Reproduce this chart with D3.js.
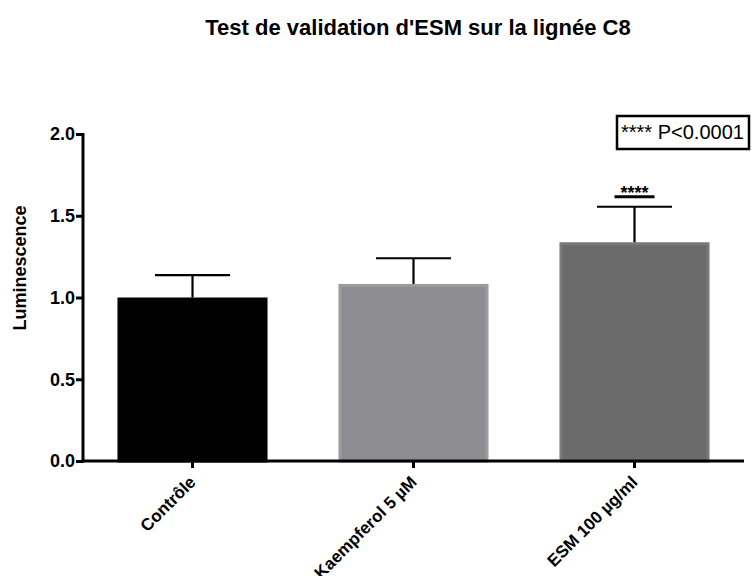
<!DOCTYPE html>
<html><head><meta charset="utf-8">
<script src="https://cdn.jsdelivr.net/npm/d3@7"></script>
<style>body{margin:0;background:#fff}svg{display:block;font-family:"Liberation Sans",Arial,sans-serif}</style>
</head><body>
<svg id="c" width="753" height="576"></svg>
<script>
const categories = ["Contrôle", "Kaempferol 5 µM", "ESM 100 µg/ml"];
const means = [1.0, 1.083, 1.338];
const sems = [0.137, 0.157, 0.217];
const fills = ["#000000", "#8d8c91", "#6b6b6b"];
const strokes = ["#000000", "#9b9ba0", "#7a7a7a"];
const yTicks = [0, 0.5, 1.0, 1.5, 2.0];
const sigIndex = 2;
const sigLabel = "****";
const legendLabel = "**** P<0.0001";
const title = "Test de validation d'ESM sur la lignée C8";
const yTitle = "Luminescence";

const FONT = "'Liberation Sans',Arial,sans-serif";
const svg = d3.select("#c");
const x = d3.scaleBand().domain(categories).range([83, 744]).paddingInner(0.321).paddingOuter(0.156);
const y = d3.scaleLinear().domain([0, 2]).range([461, 134]);

// title
svg.append("text").attr("x", 418).attr("y", 35).attr("text-anchor", "middle")
  .attr("font-weight", "bold").attr("font-size", 22).text(title);

// bars
categories.forEach((c, i) => {
  const bw = x.bandwidth();
  svg.append("rect").attr("x", x(c) + 1.5).attr("y", y(means[i]) + 1.5)
    .attr("width", bw - 3).attr("height", y(0) - y(means[i]) - 1.5)
    .attr("fill", fills[i]).attr("stroke", strokes[i]).attr("stroke-width", 3);
  const cx = x(c) + bw / 2;
  svg.append("line").attr("x1", cx).attr("x2", cx).attr("y1", y(means[i])).attr("y2", y(means[i] + sems[i]))
    .attr("stroke", "#000").attr("stroke-width", 2.2);
  svg.append("line").attr("x1", cx - bw / 4).attr("x2", cx + bw / 4)
    .attr("y1", y(means[i] + sems[i])).attr("y2", y(means[i] + sems[i]))
    .attr("stroke", "#000").attr("stroke-width", 2.2);
});

// significance
{
  const c = categories[sigIndex];
  const cx = x(c) + x.bandwidth() / 2;
  const yy = y(means[sigIndex] + sems[sigIndex]) - 10;
  svg.append("line").attr("x1", cx - 20).attr("x2", cx + 20).attr("y1", yy).attr("y2", yy)
    .attr("stroke", "#000").attr("stroke-width", 3);
  svg.append("text").attr("x", cx).attr("y", yy + 2).attr("text-anchor", "middle")
    .attr("font-size", 18).attr("font-weight", "bold").text(sigLabel);
}

// y axis
const yAxis = svg.append("g").attr("transform", "translate(83,0)")
  .call(d3.axisLeft(y).tickValues(yTicks).tickFormat(d3.format(".1f")).tickSize(7).tickPadding(1));
yAxis.select(".domain").attr("stroke-width", 3).attr("d", `M0,${y(2) - 1}V${y(0) + 1.5}`);
yAxis.selectAll(".tick line").attr("stroke-width", 3);
yAxis.selectAll(".tick text").attr("font-size", 18).attr("font-weight", "bold")
  .attr("font-family", FONT).attr("fill", "#000");

// x axis
const xAxis = svg.append("g").attr("transform", `translate(0,${y(0)})`)
  .call(d3.axisBottom(x).tickSize(7).tickSizeOuter(0));
xAxis.select(".domain").attr("stroke-width", 3).attr("d", "M81.5,0H744");
xAxis.selectAll(".tick line").attr("stroke-width", 3);
xAxis.selectAll(".tick text").attr("font-size", 17).attr("font-weight", "bold")
  .attr("font-family", FONT).attr("fill", "#000")
  .attr("text-anchor", "end").attr("x", 0).attr("y", 0).attr("dy", "0.35em")
  .attr("transform", "translate(0,18) rotate(-45)");

// y title
svg.append("text").attr("transform", "translate(20,268) rotate(-90)").attr("text-anchor", "middle")
  .attr("dy", "0.35em").attr("font-weight", "bold").attr("font-size", 18).text(yTitle);

// legend box
svg.append("rect").attr("x", 617).attr("y", 116).attr("width", 132).attr("height", 33)
  .attr("fill", "#fff").attr("stroke", "#000").attr("stroke-width", 2.5);
svg.append("text").attr("x", 621).attr("y", 139).attr("font-size", 20).text(legendLabel);
</script>
</body></html>
